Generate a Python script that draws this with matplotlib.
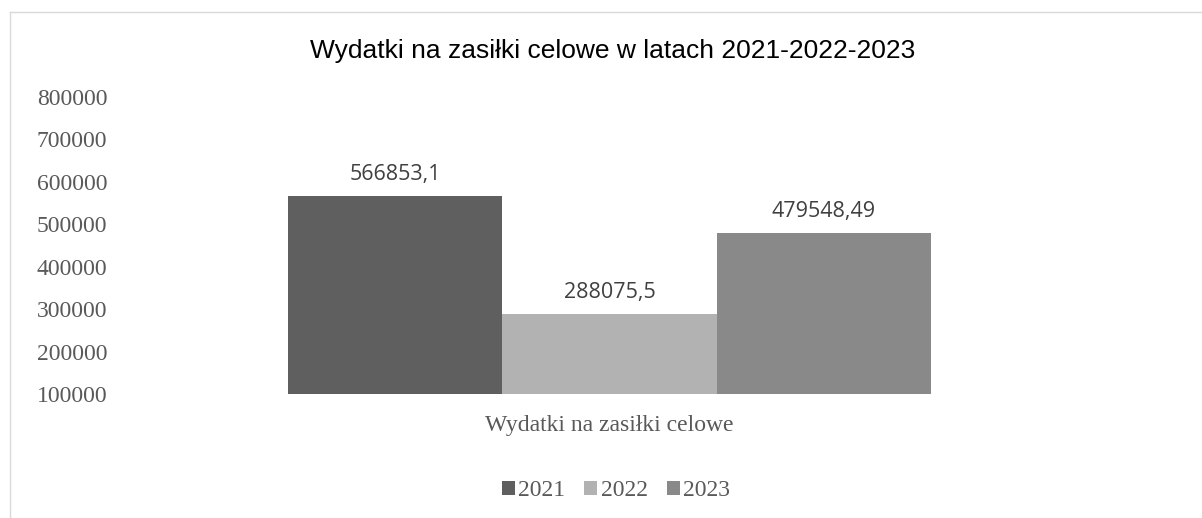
import matplotlib.pyplot as plt
from matplotlib.lines import Line2D

# data
years = ["2021", "2022", "2023"]
values = [566853.1, 288075.5, 479548.49]
value_labels = ["566853,1", "288075,5", "479548,49"]
category = "Wydatki na zasiłki celowe"
colors = ["#5f5f5f", "#b2b2b2", "#898989"]
yticks = [100000, 200000, 300000, 400000, 500000, 600000, 700000, 800000]

W, H = 1202, 518
fig = plt.figure(figsize=(W / 100, H / 100), dpi=100)

# plot area in pixels (left, top, right, bottom)
left, top, right, bottom = 124, 97, 1095, 394
ax = fig.add_axes([left / W, 1 - bottom / H, (right - left) / W, (bottom - top) / H])

bar_w = 1.0
positions = [-1, 0, 1]
half = (right - left) / 214.3 / 2
for pos, val, lab, col, yr in zip(positions, values, value_labels, colors, years):
    ax.bar(pos, val - 100000, bottom=100000, width=bar_w, color=col, label=yr)
    ax.annotate(lab, (pos, val), xytext=(0, 15.5), textcoords="offset points",
                ha="center", va="center", fontsize=15.5, color="#404040",
                family="Open Sans")

ax.set_xlim(-half, half)
ax.set_ylim(100000, 800000)
ax.set_yticks(yticks)
ax.set_yticklabels([str(t) for t in yticks], family="Liberation Serif",
                   fontsize=17, color="#595959")
ax.tick_params(axis="y", length=0, pad=12)
ax.set_xticks([0])
ax.set_xticklabels([category], family="Liberation Serif", fontsize=17, color="#595959")
ax.tick_params(axis="x", length=0, pad=15)
for s in ax.spines.values():
    s.set_visible(False)

fig.text(613 / W, 1 - 51 / H, "Wydatki na zasiłki celowe w latach 2021-2022-2023",
         ha="center", va="center", fontsize=19, family="Liberation Sans", color="black")

leg = fig.legend(loc="center", bbox_to_anchor=(616 / W, 1 - 491 / H), ncol=3,
                 frameon=False, handlelength=0.55, handleheight=0.55, handletextpad=0.15,
                 columnspacing=0.8, prop={"family": "Liberation Serif", "size": 17})
for t in leg.get_texts():
    t.set_color("#595959")

# chart border (top and left visible)
fig.add_artist(Line2D([10 / W, 1], [1 - 12 / H, 1 - 12 / H], color="#d9d9d9", lw=1))
fig.add_artist(Line2D([10 / W, 10 / W], [0, 1 - 12 / H], color="#d9d9d9", lw=1))

fig.savefig("out.png", dpi=100)
